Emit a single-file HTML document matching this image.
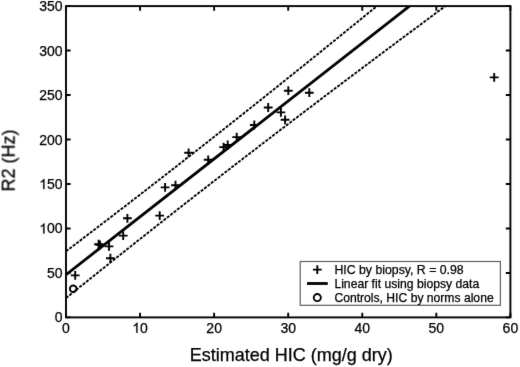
<!DOCTYPE html>
<html><head><meta charset="utf-8"><style>
html,body{margin:0;padding:0;background:#fff;}
body{width:520px;height:367px;overflow:hidden;font-family:"Liberation Sans",sans-serif;}
svg{display:block;will-change:transform;}
text{stroke:#000;stroke-width:0.25px;}
</style></head><body>
<svg width="520" height="367" viewBox="0 0 520 367">
<defs><filter id="bl" x="0" y="0" width="520" height="367" filterUnits="userSpaceOnUse" color-interpolation-filters="sRGB"><feConvolveMatrix order="3" kernelMatrix="0.0072 0.0847 0.0072 0.0847 1 0.0847 0.0072 0.0847 0.0072" edgeMode="duplicate"/></filter><clipPath id="ax"><rect x="66.0" y="6.1" width="444.4" height="311.29999999999995"/></clipPath></defs>
<g filter="url(#bl)"><rect width="520" height="367" fill="#fff"/>
<g clip-path="url(#ax)" fill="none" stroke="#000">
<line x1="66.0" y1="274.7" x2="412.48" y2="3.75" stroke-width="2.8"/>
<polyline points="66.00,251.30 68.00,249.78 70.00,248.26 72.00,246.74 74.00,245.22 76.00,243.70 78.00,242.17 80.00,240.65 82.00,239.13 84.00,237.60 86.00,236.08 88.00,234.55 90.00,233.03 92.00,231.50 94.00,229.97 96.00,228.44 98.00,226.92 100.00,225.39 102.00,223.85 104.00,222.32 106.00,220.79 108.00,219.26 110.00,217.72 112.00,216.19 114.00,214.65 116.00,213.12 118.00,211.58 120.00,210.04 122.00,208.51 124.00,206.97 126.00,205.43 128.00,203.89 130.00,202.34 132.00,200.80 134.00,199.26 136.00,197.72 138.00,196.17 140.00,194.63 142.00,193.08 144.00,191.53 146.00,189.98 148.00,188.44 150.00,186.89 152.00,185.34 154.00,183.79 156.00,182.23 158.00,180.68 160.00,179.13 162.00,177.57 164.00,176.02 166.00,174.46 168.00,172.91 170.00,171.35 172.00,169.79 174.00,168.23 176.00,166.67 178.00,165.11 180.00,163.55 182.00,161.99 184.00,160.42 186.00,158.86 188.00,157.30 190.00,155.73 192.00,154.16 194.00,152.60 196.00,151.03 198.00,149.46 200.00,147.89 202.00,146.32 204.00,144.75 206.00,143.17 208.00,141.60 210.00,140.03 212.00,138.45 214.00,136.88 216.00,135.30 218.00,133.72 220.00,132.15 222.00,130.57 224.00,128.99 226.00,127.41 228.00,125.83 230.00,124.25 232.00,122.66 234.00,121.08 236.00,119.50 238.00,117.91 240.00,116.32 242.00,114.74 244.00,113.15 246.00,111.56 248.00,109.97 250.00,108.38 252.00,106.79 254.00,105.20 256.00,103.61 258.00,102.02 260.00,100.42 262.00,98.83 264.00,97.23 266.00,95.64 268.00,94.04 270.00,92.45 272.00,90.85 274.00,89.25 276.00,87.65 278.00,86.05 280.00,84.45 282.00,82.85 284.00,81.24 286.00,79.64 288.00,78.04 290.00,76.43 292.00,74.83 294.00,73.22 296.00,71.61 298.00,70.01 300.00,68.40 302.00,66.79 304.00,65.18 306.00,63.57 308.00,61.96 310.00,60.35 312.00,58.74 314.00,57.12 316.00,55.51 318.00,53.90 320.00,52.28 322.00,50.67 324.00,49.05 326.00,47.43 328.00,45.82 330.00,44.20 332.00,42.58 334.00,40.96 336.00,39.34 338.00,37.72 340.00,36.10 342.00,34.48 344.00,32.85 346.00,31.23 348.00,29.61 350.00,27.98 352.00,26.36 354.00,24.73 356.00,23.11 358.00,21.48 360.00,19.86 362.00,18.23 364.00,16.60 366.00,14.97 368.00,13.34 370.00,11.71 372.00,10.08 374.00,8.45 376.00,6.82 378.00,5.19 380.00,3.56 382.00,1.92 384.00,0.29 386.00,-1.34 388.00,-2.98 390.00,-4.61 392.00,-6.25 394.00,-7.88 396.00,-9.52 398.00,-11.16 400.00,-12.79 402.00,-14.43 404.00,-16.07 406.00,-17.71 408.00,-19.35 410.00,-20.99 412.00,-22.63 414.00,-24.27 416.00,-25.91 418.00,-27.55 420.00,-29.19 422.00,-30.84 424.00,-32.48 426.00,-34.12 428.00,-35.77 430.00,-37.41 432.00,-39.05 434.00,-40.70 436.00,-42.34 438.00,-43.99 440.00,-45.64 442.00,-47.28 444.00,-48.93 446.00,-50.58 448.00,-52.22 450.00,-53.87 452.00,-55.52 454.00,-57.17 456.00,-58.82 458.00,-60.47 460.00,-62.12 462.00,-63.77 464.00,-65.42 466.00,-67.07 468.00,-68.72 470.00,-70.37 472.00,-72.03 474.00,-73.68 476.00,-75.33 478.00,-76.99 480.00,-78.64 482.00,-80.29 484.00,-81.95 486.00,-83.60 488.00,-85.26 490.00,-86.91 492.00,-88.57 494.00,-90.22 496.00,-91.88 498.00,-93.54 500.00,-95.19 502.00,-96.85 504.00,-98.51 506.00,-100.16 508.00,-101.82 510.00,-103.48" stroke-width="1.9" stroke-dasharray="3.0 1.3"/>
<polyline points="66.00,298.10 68.00,296.49 70.00,294.89 72.00,293.28 74.00,291.67 76.00,290.06 78.00,288.46 80.00,286.85 82.00,285.25 84.00,283.64 86.00,282.04 88.00,280.44 90.00,278.84 92.00,277.24 94.00,275.64 96.00,274.04 98.00,272.44 100.00,270.84 102.00,269.24 104.00,267.65 106.00,266.05 108.00,264.45 110.00,262.86 112.00,261.27 114.00,259.67 116.00,258.08 118.00,256.49 120.00,254.90 122.00,253.31 124.00,251.72 126.00,250.13 128.00,248.55 130.00,246.96 132.00,245.37 134.00,243.79 136.00,242.20 138.00,240.62 140.00,239.04 142.00,237.46 144.00,235.88 146.00,234.30 148.00,232.72 150.00,231.14 152.00,229.56 154.00,227.98 156.00,226.41 158.00,224.83 160.00,223.26 162.00,221.68 164.00,220.11 166.00,218.54 168.00,216.97 170.00,215.39 172.00,213.83 174.00,212.26 176.00,210.69 178.00,209.12 180.00,207.55 182.00,205.99 184.00,204.42 186.00,202.86 188.00,201.30 190.00,199.73 192.00,198.17 194.00,196.61 196.00,195.05 198.00,193.49 200.00,191.93 202.00,190.38 204.00,188.82 206.00,187.27 208.00,185.71 210.00,184.16 212.00,182.60 214.00,181.05 216.00,179.50 218.00,177.95 220.00,176.40 222.00,174.85 224.00,173.30 226.00,171.75 228.00,170.20 230.00,168.66 232.00,167.11 234.00,165.57 236.00,164.02 238.00,162.48 240.00,160.94 242.00,159.40 244.00,157.86 246.00,156.32 248.00,154.78 250.00,153.24 252.00,151.70 254.00,150.17 256.00,148.63 258.00,147.09 260.00,145.56 262.00,144.03 264.00,142.49 266.00,140.96 268.00,139.43 270.00,137.90 272.00,136.37 274.00,134.84 276.00,133.31 278.00,131.78 280.00,130.26 282.00,128.73 284.00,127.20 286.00,125.68 288.00,124.16 290.00,122.63 292.00,121.11 294.00,119.59 296.00,118.07 298.00,116.55 300.00,115.03 302.00,113.51 304.00,111.99 306.00,110.47 308.00,108.95 310.00,107.44 312.00,105.92 314.00,104.40 316.00,102.89 318.00,101.38 320.00,99.86 322.00,98.35 324.00,96.84 326.00,95.33 328.00,93.82 330.00,92.31 332.00,90.80 334.00,89.29 336.00,87.78 338.00,86.27 340.00,84.77 342.00,83.26 344.00,81.75 346.00,80.25 348.00,78.74 350.00,77.24 352.00,75.74 354.00,74.23 356.00,72.73 358.00,71.23 360.00,69.73 362.00,68.23 364.00,66.73 366.00,65.23 368.00,63.73 370.00,62.23 372.00,60.73 374.00,59.24 376.00,57.74 378.00,56.24 380.00,54.75 382.00,53.25 384.00,51.76 386.00,50.26 388.00,48.77 390.00,47.28 392.00,45.78 394.00,44.29 396.00,42.80 398.00,41.31 400.00,39.82 402.00,38.33 404.00,36.84 406.00,35.35 408.00,33.86 410.00,32.37 412.00,30.88 414.00,29.40 416.00,27.91 418.00,26.42 420.00,24.94 422.00,23.45 424.00,21.97 426.00,20.48 428.00,19.00 430.00,17.51 432.00,16.03 434.00,14.55 436.00,13.06 438.00,11.58 440.00,10.10 442.00,8.62 444.00,7.14 446.00,5.66 448.00,4.18 450.00,2.70 452.00,1.22 454.00,-0.26 456.00,-1.74 458.00,-3.22 460.00,-4.70 462.00,-6.17 464.00,-7.65 466.00,-9.13 468.00,-10.61 470.00,-12.08 472.00,-13.56 474.00,-15.03 476.00,-16.51 478.00,-17.98 480.00,-19.46 482.00,-20.93 484.00,-22.41 486.00,-23.88 488.00,-25.35 490.00,-26.82 492.00,-28.30 494.00,-29.77 496.00,-31.24 498.00,-32.71 500.00,-34.18 502.00,-35.65 504.00,-37.13 506.00,-38.60 508.00,-40.07 510.00,-41.54" stroke-width="1.9" stroke-dasharray="3.0 1.3"/>
</g>
<g fill="none" stroke="#000" stroke-width="1.9">
<path d="M70.80 275.40H79.60M75.20 271.00V279.80"/>
<path d="M94.20 244.20H103.00M98.60 239.80V248.60"/>
<path d="M95.60 244.80H104.40M100.00 240.40V249.20"/>
<path d="M104.60 246.40H113.40M109.00 242.00V250.80"/>
<path d="M106.00 258.20H114.80M110.40 253.80V262.60"/>
<path d="M118.80 235.60H127.60M123.20 231.20V240.00"/>
<path d="M123.00 218.30H131.80M127.40 213.90V222.70"/>
<path d="M155.30 215.60H164.10M159.70 211.20V220.00"/>
<path d="M160.70 187.40H169.50M165.10 183.00V191.80"/>
<path d="M171.10 185.20H179.90M175.50 180.80V189.60"/>
<path d="M184.20 152.80H193.00M188.60 148.40V157.20"/>
<path d="M203.80 159.80H212.60M208.20 155.40V164.20"/>
<path d="M219.20 147.10H228.00M223.60 142.70V151.50"/>
<path d="M223.30 145.00H232.10M227.70 140.60V149.40"/>
<path d="M232.30 137.10H241.10M236.70 132.70V141.50"/>
<path d="M249.90 125.00H258.70M254.30 120.60V129.40"/>
<path d="M263.80 107.50H272.60M268.20 103.10V111.90"/>
<path d="M276.50 112.40H285.30M280.90 108.00V116.80"/>
<path d="M280.70 119.80H289.50M285.10 115.40V124.20"/>
<path d="M283.90 90.70H292.70M288.30 86.30V95.10"/>
<path d="M304.90 92.70H313.70M309.30 88.30V97.10"/>
<path d="M489.80 77.40H498.60M494.20 73.00V81.80"/>
<circle cx="73.20" cy="288.80" r="3.3"/>
</g>
<g fill="none" stroke="#000" stroke-width="1.9">
<rect x="66.0" y="6.1" width="444.4" height="311.29999999999995"/>
<path d="M66.00 317.4V312.79999999999995M66.00 6.1V10.7M140.07 317.4V312.79999999999995M140.07 6.1V10.7M214.13 317.4V312.79999999999995M214.13 6.1V10.7M288.20 317.4V312.79999999999995M288.20 6.1V10.7M362.27 317.4V312.79999999999995M362.27 6.1V10.7M436.33 317.4V312.79999999999995M436.33 6.1V10.7M510.40 317.4V312.79999999999995M510.40 6.1V10.7M66.0 317.40H70.6M510.4 317.40H505.79999999999995M66.0 272.93H70.6M510.4 272.93H505.79999999999995M66.0 228.46H70.6M510.4 228.46H505.79999999999995M66.0 183.99H70.6M510.4 183.99H505.79999999999995M66.0 139.51H70.6M510.4 139.51H505.79999999999995M66.0 95.04H70.6M510.4 95.04H505.79999999999995M66.0 50.57H70.6M510.4 50.57H505.79999999999995M66.0 6.10H70.6M510.4 6.10H505.79999999999995"/>
</g>
<g font-family="Liberation Sans, sans-serif" font-size="14" fill="#000">
<text x="62.107" y="332.800">0</text>
<path transform="translate(132.281,332.800) scale(0.006836,-0.006836)" stroke="#000" stroke-width="36.57" d="M763 0H583V1147Q518 1085 412.5 1023Q307 961 223 930V1104Q374 1175 487 1276Q600 1377 647 1472H763V0Z"/>
<text x="140.067" y="332.800">0</text>
<text x="206.347" y="332.800">2</text>
<text x="214.133" y="332.800">0</text>
<text x="280.414" y="332.800">3</text>
<text x="288.200" y="332.800">0</text>
<text x="354.481" y="332.800">4</text>
<text x="362.267" y="332.800">0</text>
<text x="428.547" y="332.800">5</text>
<text x="436.333" y="332.800">0</text>
<text x="502.614" y="332.800">6</text>
<text x="510.400" y="332.800">0</text>
<text x="54.814" y="322.400">0</text>
<text x="47.028" y="277.929">5</text>
<text x="54.814" y="277.929">0</text>
<path transform="translate(39.242,233.457) scale(0.006836,-0.006836)" stroke="#000" stroke-width="36.57" d="M763 0H583V1147Q518 1085 412.5 1023Q307 961 223 930V1104Q374 1175 487 1276Q600 1377 647 1472H763V0Z"/>
<text x="47.028" y="233.457">0</text>
<text x="54.814" y="233.457">0</text>
<path transform="translate(39.242,188.986) scale(0.006836,-0.006836)" stroke="#000" stroke-width="36.57" d="M763 0H583V1147Q518 1085 412.5 1023Q307 961 223 930V1104Q374 1175 487 1276Q600 1377 647 1472H763V0Z"/>
<text x="47.028" y="188.986">5</text>
<text x="54.814" y="188.986">0</text>
<text x="39.242" y="144.514">2</text>
<text x="47.028" y="144.514">0</text>
<text x="54.814" y="144.514">0</text>
<text x="39.242" y="100.043">2</text>
<text x="47.028" y="100.043">5</text>
<text x="54.814" y="100.043">0</text>
<text x="39.242" y="55.571">3</text>
<text x="47.028" y="55.571">0</text>
<text x="54.814" y="55.571">0</text>
<text x="39.242" y="11.100">3</text>
<text x="47.028" y="11.100">5</text>
<text x="54.814" y="11.100">0</text>
</g>
<text x="291.2" y="361" text-anchor="middle" font-family="Liberation Sans, sans-serif" font-size="18">Estimated HIC (mg/g dry)</text>
<text transform="translate(14.6,160.5) rotate(-90)" x="0" y="0" text-anchor="middle" font-family="Liberation Sans, sans-serif" font-size="18">R2 (Hz)</text>
<rect x="300.2" y="261.5" width="200.2" height="43.80000000000001" fill="#fff" stroke="#5e5e5e" stroke-width="1.2"/>
<g fill="none" stroke="#000" stroke-width="1.9">
<path d="M312.90 269.6H321.70M317.3 265.20V274.00"/>
<line x1="307" y1="283.5" x2="327.8" y2="283.5" stroke-width="2.8"/>
<circle cx="317.3" cy="297.59999999999997" r="3.55"/>
</g>
<g font-family="Liberation Sans, sans-serif" font-size="12.3" fill="#000">
<text x="334.4" y="273.90" font-size="12.3">HIC by biopsy, R = 0.98</text>
<text x="334.4" y="287.80" font-size="12.18">Linear fit using biopsy data</text>
<text x="334.4" y="301.70" font-size="12.15">Controls, HIC by norms alone</text>
</g>
</g>
</svg>
</body></html>
